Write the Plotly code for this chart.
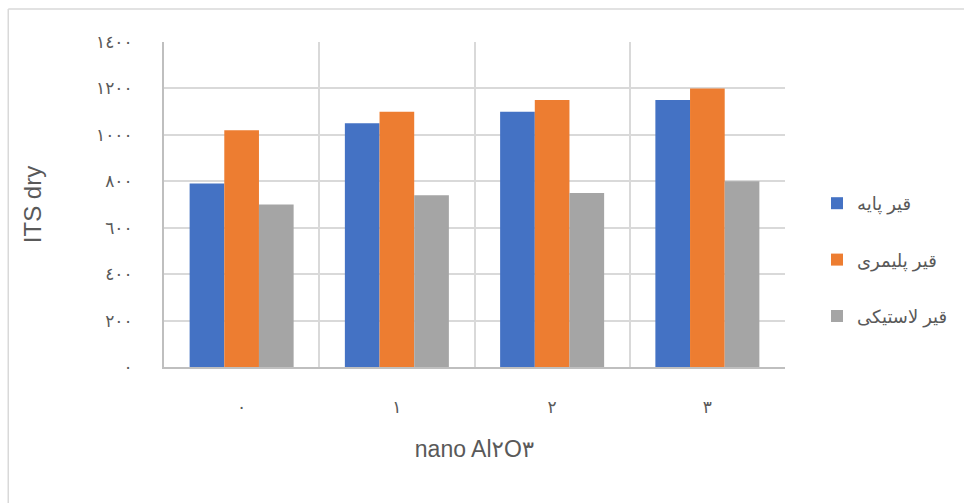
import plotly.graph_objects as go

# Nano Al2O3 content (percent) and the tick labels drawn under each group
nano_levels = [0, 1, 2, 3]
nano_labels = ["٠", "١", "٢", "٣"]

# ITS dry values for each binder type
series_names = ["قیر پایه", "قیر پلیمری", "قیر لاستیکی"]
base_binder = [790, 1050, 1100, 1150]
polymer_binder = [1020, 1100, 1150, 1200]
rubber_binder = [700, 740, 750, 800]

# Y axis ticks and their Persian-digit labels
y_ticks = [0, 200, 400, 600, 800, 1000, 1200, 1400]
y_tick_labels = ["٠", "٢٠٠", "٤٠٠", "٦٠٠", "٨٠٠", "١٠٠٠", "١٢٠٠", "١٤٠٠"]

colors = ["#4472C4", "#ED7D31", "#A5A5A5"]
text_color = "#595959"
font_stack = "Liberation Sans, Arial, DejaVu Sans, sans-serif"

fig = go.Figure()
for name, vals, col in zip(series_names, [base_binder, polymer_binder, rubber_binder], colors):
    fig.add_trace(go.Bar(
        x=nano_levels, y=vals, name=name, legendgroup=name,
        marker=dict(color=col, line=dict(width=0)),
    ))

# Outer chart frame (top and left edges)
L, R, T, B = 164, 786, 42, 367
W, H = R - L, B - T
def px_x(p):
    return (p - L) / W
def px_y(p):
    return (B - p) / H

fig.add_shape(type="line", xref="paper", yref="paper",
              x0=px_x(8), x1=px_x(970), y0=px_y(9), y1=px_y(9),
              line=dict(color="#d9d9d9", width=1.5))
fig.add_shape(type="line", xref="paper", yref="paper",
              x0=px_x(8), x1=px_x(8), y0=px_y(9), y1=px_y(510),
              line=dict(color="#d9d9d9", width=1.5))

fig.update_layout(
    width=964, height=503,
    margin=dict(l=L, r=964 - R, t=T, b=503 - B),
    paper_bgcolor="white", plot_bgcolor="white",
    barmode="group", bargap=0.33, bargroupgap=0,
    font=dict(family=font_stack, color=text_color),
    showlegend=True,
    legend=dict(
        x=px_x(817), y=px_y(185), xanchor="left", yanchor="top",
        font=dict(size=18, color=text_color),
        tracegroupgap=30, traceorder="grouped",
        bgcolor="rgba(0,0,0,0)",
    ),
    xaxis=dict(
        range=[-0.5, 3.5],
        tickmode="array", tickvals=nano_levels, ticktext=nano_labels,
        tickfont=dict(size=17, color=text_color),
        showgrid=False, zeroline=False,
        showline=True, linecolor="#bfbfbf", linewidth=2,
        ticks="", ticklabelstandoff=24,
        minor=dict(tickmode="linear", tick0=-0.5, dtick=1,
                   showgrid=True, gridcolor="#d9d9d9", gridwidth=1.5, ticks=""),
        title=dict(text="nano Al٢O٣", font=dict(size=23, color=text_color), standoff=24),
    ),
    yaxis=dict(
        range=[0, 1400],
        tickmode="array", tickvals=y_ticks, ticktext=y_tick_labels,
        tickfont=dict(size=17, color=text_color),
        showgrid=True, gridcolor="#d9d9d9", gridwidth=1.5,
        zeroline=False,
        showline=True, linecolor="#bfbfbf", linewidth=2,
        ticks="", ticklabelstandoff=26,
        title=dict(text="ITS dry", font=dict(size=24, color=text_color), standoff=48),
    ),
)

fig.write_html("out.html")
